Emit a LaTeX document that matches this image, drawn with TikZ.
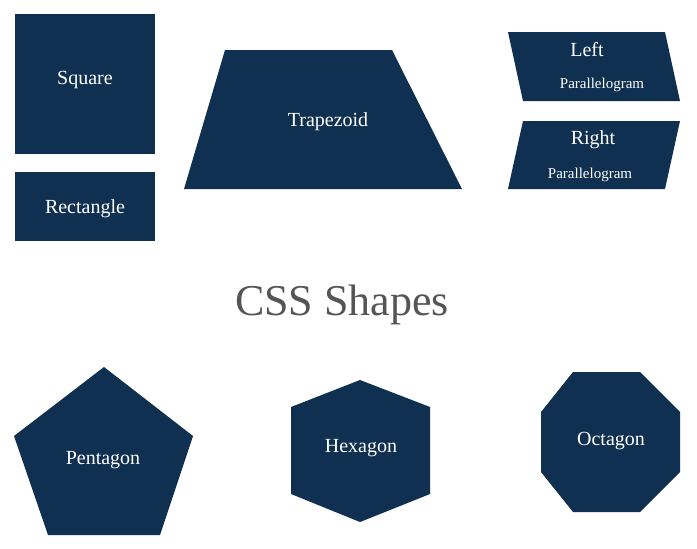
\documentclass[tikz,border=0pt]{standalone}
\usepackage{fontspec}
\setmainfont{Liberation Serif}
\definecolor{navy}{HTML}{0F3050}
\definecolor{tgray}{HTML}{555555}
\tikzset{shp/.style={fill=navy,draw=none},lbl/.style={text=white,font=\fontsize{20}{22}\selectfont,inner sep=0pt},
small/.style={text=white,font=\fontsize{15}{17}\selectfont,inner sep=0pt}}
\begin{document}
\begin{tikzpicture}[x=1pt,y=-1pt]
\useasboundingbox (0,0) rectangle (697,549);
\fill[shp] (15,14) rectangle (155,154);
\node[lbl] (sq) at (85,80) {Square};
\fill[shp] (15,172) rectangle (155,241);
\node[lbl] (re) at (85,209) {Rectangle};
\fill[shp] (225,50) -- (392,50) -- (462,189) -- (184,189) -- cycle;
\node[lbl] (tr) at (328,122) {Trapezoid};
\fill[shp] (508,32) -- (665,32) -- (680,101) -- (523,101) -- cycle;
\node[lbl] (lp1) at (587,50) {Left};
\node[small] (lp2) at (602,85) {Parallelogram};
\fill[shp] (523,121) -- (680,121) -- (665,189) -- (508,189) -- cycle;
\node[lbl] (rp1) at (593,140) {Right};
\node[small] (rp2) at (590,175) {Parallelogram};
\node[text=tgray,font=\fontsize{44}{48}\selectfont,inner sep=0pt] (title) at (342,305) {CSS Shapes};
\fill[shp] (104,367) -- (193,436) -- (160,535) -- (48,535) -- (14,436) -- cycle;
\node[lbl] (pe) at (103,460) {Pentagon};
\fill[shp] (360,380) -- (430,407) -- (430,494) -- (360,522) -- (291,494) -- (291,407) -- cycle;
\node[lbl] (he) at (361,448) {Hexagon};
\fill[shp] (573,372) -- (640,372) -- (680,412) -- (680,472) -- (640,512) -- (573,512) -- (541,472) -- (541,412) -- cycle;
\node[lbl] (oc) at (611,441) {Octagon};
\end{tikzpicture}
\end{document}
